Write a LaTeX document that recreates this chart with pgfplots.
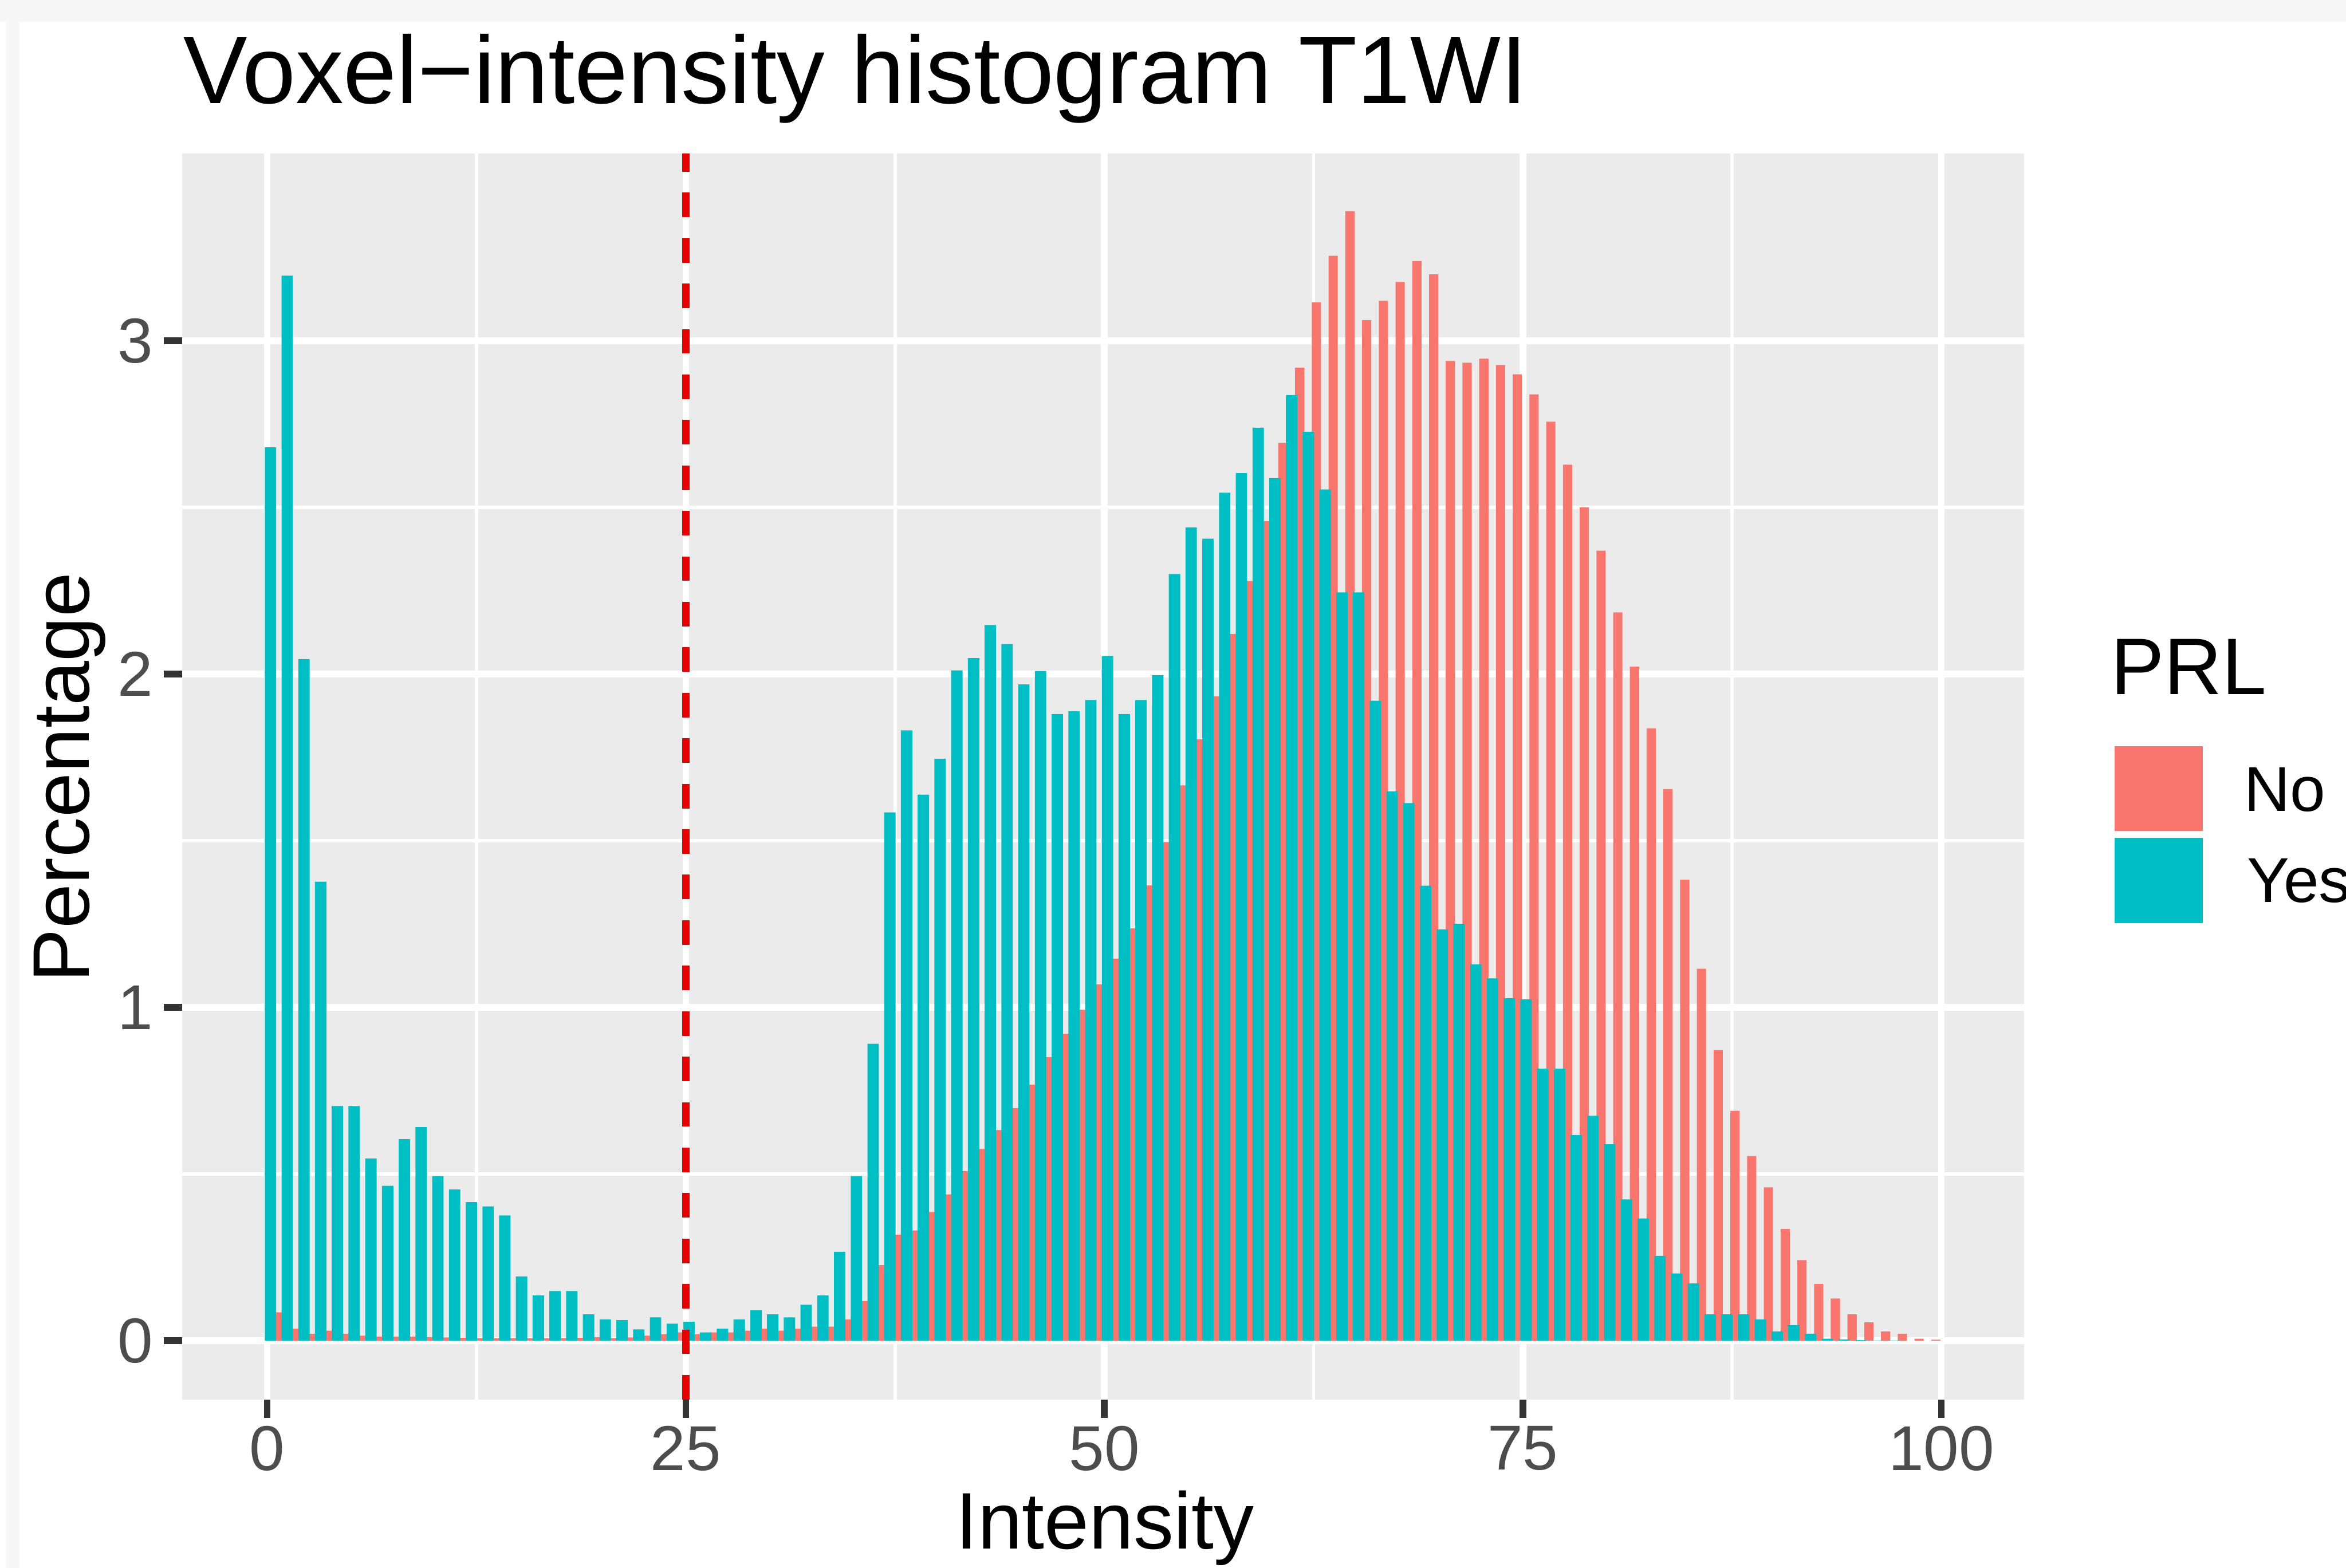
\documentclass[border=0pt]{standalone}
\usepackage{fontspec}
\setmainfont{Liberation Sans}
\usepackage{pgfplots}
\usepackage{pgfplotstable}
\pgfplotsset{compat=1.18}
\definecolor{noRed}{HTML}{F8766D}
\definecolor{yesTeal}{HTML}{00BFC4}
\definecolor{panel}{HTML}{EBEBEB}
\definecolor{gray30}{HTML}{4D4D4D}
\definecolor{gray20}{HTML}{333333}
\definecolor{vred}{HTML}{E60000}
\definecolor{band}{HTML}{F7F7F7}

\pgfplotstableread{
x y
0 0.085
1 0.036
2 0.021
3 0.030
4 0.021
5 0.015
6 0.012
7 0.012
8 0.012
9 0.011
10 0.010
11 0.009
12 0.008
13 0.008
14 0.008
15 0.008
16 0.008
17 0.008
18 0.009
19 0.011
20 0.008
21 0.010
22 0.015
23 0.020
24 0.025
25 0.020
26 0.025
27 0.025
28 0.030
29 0.036
30 0.030
31 0.036
32 0.042
33 0.042
34 0.064
35 0.119
36 0.227
37 0.318
38 0.331
39 0.386
40 0.439
41 0.509
42 0.575
43 0.632
44 0.698
45 0.768
46 0.851
47 0.921
48 0.993
49 1.069
50 1.146
51 1.237
52 1.366
53 1.496
54 1.666
55 1.804
56 1.933
57 2.120
58 2.279
59 2.459
60 2.694
61 2.919
62 3.115
63 3.255
64 3.389
65 3.062
66 3.120
67 3.176
68 3.239
69 3.199
70 2.939
71 2.934
72 2.946
73 2.927
74 2.899
75 2.839
76 2.757
77 2.628
78 2.500
79 2.370
80 2.185
81 2.022
82 1.837
83 1.655
84 1.383
85 1.116
86 0.872
87 0.690
88 0.554
89 0.460
90 0.335
91 0.242
92 0.170
93 0.127
94 0.079
95 0.055
96 0.028
97 0.021
98 0.006
99 0.003
}\noData

\pgfplotstableread{
x y
0 2.680
1 3.195
2 2.045
3 1.377
4 0.704
5 0.704
6 0.547
7 0.465
8 0.605
9 0.641
10 0.494
11 0.454
12 0.416
13 0.403
14 0.376
15 0.193
16 0.136
17 0.149
18 0.149
19 0.079
20 0.064
21 0.062
22 0.034
23 0.070
24 0.051
25 0.057
26 0.025
27 0.036
28 0.064
29 0.091
30 0.079
31 0.070
32 0.108
33 0.136
34 0.267
35 0.494
36 0.891
37 1.585
38 1.831
39 1.638
40 1.746
41 2.011
42 2.048
43 2.147
44 2.090
45 1.969
46 2.009
47 1.880
48 1.888
49 1.922
50 2.054
51 1.880
52 1.922
53 1.997
54 2.300
55 2.440
56 2.406
57 2.544
58 2.603
59 2.739
60 2.588
61 2.837
62 2.727
63 2.554
64 2.245
65 2.245
66 1.920
67 1.648
68 1.613
69 1.365
70 1.234
71 1.251
72 1.129
73 1.087
74 1.028
75 1.024
76 0.816
77 0.816
78 0.617
79 0.675
80 0.590
81 0.424
82 0.367
83 0.255
84 0.202
85 0.172
86 0.079
87 0.079
88 0.079
89 0.064
90 0.028
91 0.047
92 0.021
93 0.006
94 0.004
95 0.002
96 0.001
97 0.001
}\yesData

\begin{document}
\begin{tikzpicture}[x=1pt,y=1pt]
\path[use as bounding box] (0,0) rectangle (392,262);
\fill[band] (0,258.4) rectangle (392,262);
\fill[band] (1.1,0) rectangle (3.3,258.4);
\begin{axis}[
  at={(30.48pt,28.11pt)}, anchor=south west,
  scale only axis, width=307.7pt, height=208.2pt,
  xmin=-5.07, xmax=104.93, ymin=-0.1764, ymax=3.561,
  axis background/.style={fill=panel},
  axis line style={draw=none},
  xtick={0,25,50,75,100}, minor xtick={12.5,37.5,62.5,87.5},
  ytick={0,1,2,3}, minor ytick={0.5,1.5,2.5},
  grid=both,
  major grid style={draw=white, line width=1.1pt},
  minor grid style={draw=white, line width=0.55pt},
  tick pos=left, tick align=outside,
  major tick length=3.1pt, minor tick length=0pt,
  tick style={draw=gray20, line width=1.1pt},
  tick label style={font=\fontsize{10.6}{12}\selectfont, text=gray30, inner sep=0pt},
  xticklabel style={anchor=north, yshift=-1.1pt},
  yticklabel style={anchor=east, xshift=-1.6pt},
  /pgf/number format/assume math mode=true,
]
\addplot[ybar, bar width=0.55, bar shift=0pt, fill=noRed, draw=none]
  table[x expr=\thisrow{x}+0.67, y=y] {\noData};
\addplot[ybar, bar width=0.68, bar shift=0pt, fill=yesTeal, draw=none]
  table[x expr=\thisrow{x}+0.19, y=y] {\yesData};
\addplot[vred, line width=1.2pt, dash pattern=on 4.1pt off 3.5pt]
  coordinates {(25,-0.1764) (25,3.561)};
\end{axis}
\node[anchor=base west, inner sep=0pt, font=\fontsize{16}{19}\selectfont] at (30.5,244.7) {Voxel−intensity histogram T1WI};
\node[anchor=base, inner sep=0pt, font=\fontsize{13.4}{16}\selectfont] at (184.6,3.2) {Intensity};
\node[rotate=90, anchor=base, inner sep=0pt, font=\fontsize{13.4}{16}\selectfont] at (14.93,132.1) {Percentage};
\node[anchor=base west, inner sep=0pt, font=\fontsize{13.4}{16}\selectfont] at (352.5,146.0) {PRL};
\fill[noRed] (353.3,123.1) rectangle (368.1,137.3);
\fill[yesTeal] (353.3,107.75) rectangle (368.1,121.95);
\node[anchor=base west, inner sep=0pt, font=\fontsize{10.6}{12}\selectfont] at (374.8,126.4) {No};
\node[anchor=base west, inner sep=0pt, font=\fontsize{10.6}{12}\selectfont] at (375.3,111.25) {Yes};
\end{tikzpicture}
\end{document}
